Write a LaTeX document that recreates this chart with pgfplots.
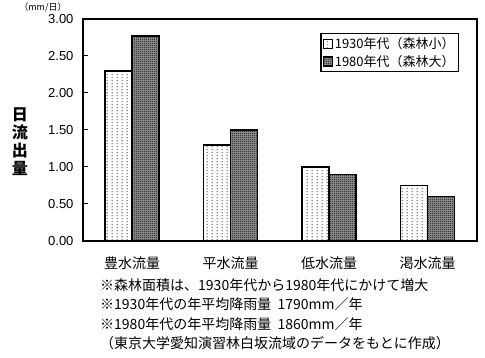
\documentclass[border=0pt]{standalone}
\usepackage{pgfplots}
\pgfplotsset{compat=1.18}
\usepackage{fontspec}
\setmainfont{Noto Sans CJK JP}
\newfontfamily\arial{Liberation Sans}
\usetikzlibrary{patterns}
\pgfdeclarepatternformonly{sparsedots}{\pgfpointorigin}{\pgfqpoint{5pt}{3pt}}{\pgfqpoint{5pt}{3pt}}{%
  \pgfpathrectangle{\pgfqpoint{2pt}{1pt}}{\pgfqpoint{1pt}{1pt}}\pgfusepath{fill}}
\pgfdeclarepatternformonly{checker}{\pgfpointorigin}{\pgfqpoint{2pt}{2pt}}{\pgfqpoint{2pt}{2pt}}{%
  \pgfpathrectangle{\pgfqpoint{0pt}{0pt}}{\pgfqpoint{1pt}{1pt}}%
  \pgfpathrectangle{\pgfqpoint{1pt}{1pt}}{\pgfqpoint{1pt}{1pt}}\pgfusepath{fill}}
\begin{document}
\begin{tikzpicture}
\useasboundingbox (-83pt,-117pt) rectangle (402pt,241pt);
\begin{axis}[
  scale only axis, width=394pt, height=222pt,
  at={(0pt,0pt)}, anchor=south west,
  ymin=0, ymax=3, xmin=-0.5, xmax=3.5,
  ytick={0,0.5,1,1.5,2,2.5,3},
  yticklabel style={/pgf/number format/fixed, /pgf/number format/fixed zerofill, /pgf/number format/precision=2, font=\arial\fontsize{13}{13}\selectfont, xshift=-6pt},
  /pgf/number format/assume math mode=true,
  xtick={0,1,2,3},
  xticklabels={豊水流量,平水流量,低水流量,渇水流量},
  xticklabel style={font=\fontsize{14}{14}\selectfont, yshift=-7pt},
  extra x ticks={0.5,1.5,2.5},
  extra x tick labels={},
  extra x tick style={major tick length=5pt, tick style={line width=1pt, black}},
  xtick style={draw=none},
  ytick style={line width=1pt, black},
  tick align=inside, major tick length=5pt,
  ytick pos=left,
  axis line style={line width=1.6pt},
  ybar=0pt, bar width=27pt,
  legend style={at={(rel axis cs:0.955,0.937)}, anchor=north east, draw=black, line width=1.2pt, font=\fontsize{13}{13}\selectfont, row sep=1pt, inner sep=2pt},
  legend cell align=left,
  legend image code/.code={\draw[#1, line width=0.8pt] (0cm,-4.5pt) rectangle (9pt,4.5pt);},
]
\addplot[draw=black, line width=1.5pt, pattern=sparsedots] coordinates {(0,2.30) (1,1.30) (2,1.00) (3,0.75)};
\addplot[draw=black, line width=1.5pt, preaction={fill=black!40}, pattern=checker] coordinates {(0,2.77) (1,1.50) (2,0.90) (3,0.60)};
\legend{1930年代（森林小）,1980年代（森林大）}
\end{axis}
\node[font=\fontsize{9}{9}\selectfont, anchor=south] at (-40pt,225pt) {（mm/日）};
\node[font=\bfseries\fontsize{16}{18}\selectfont, align=center] at (-63pt,99pt) {日\\流\\出\\量};
\node[anchor=north west, align=left, font=\fontsize{14}{19.5}\selectfont, inner sep=0pt] at (17pt,-37pt)
 {※森林面積は、1930年代から1980年代にかけて増大\\
  ※1930年代の年平均降雨量\ \ 1790mm／年\\
  ※1980年代の年平均降雨量\ \ 1860mm／年\\
  （東京大学愛知演習林白坂流域のデータをもとに作成）};
\end{tikzpicture}
\end{document}
